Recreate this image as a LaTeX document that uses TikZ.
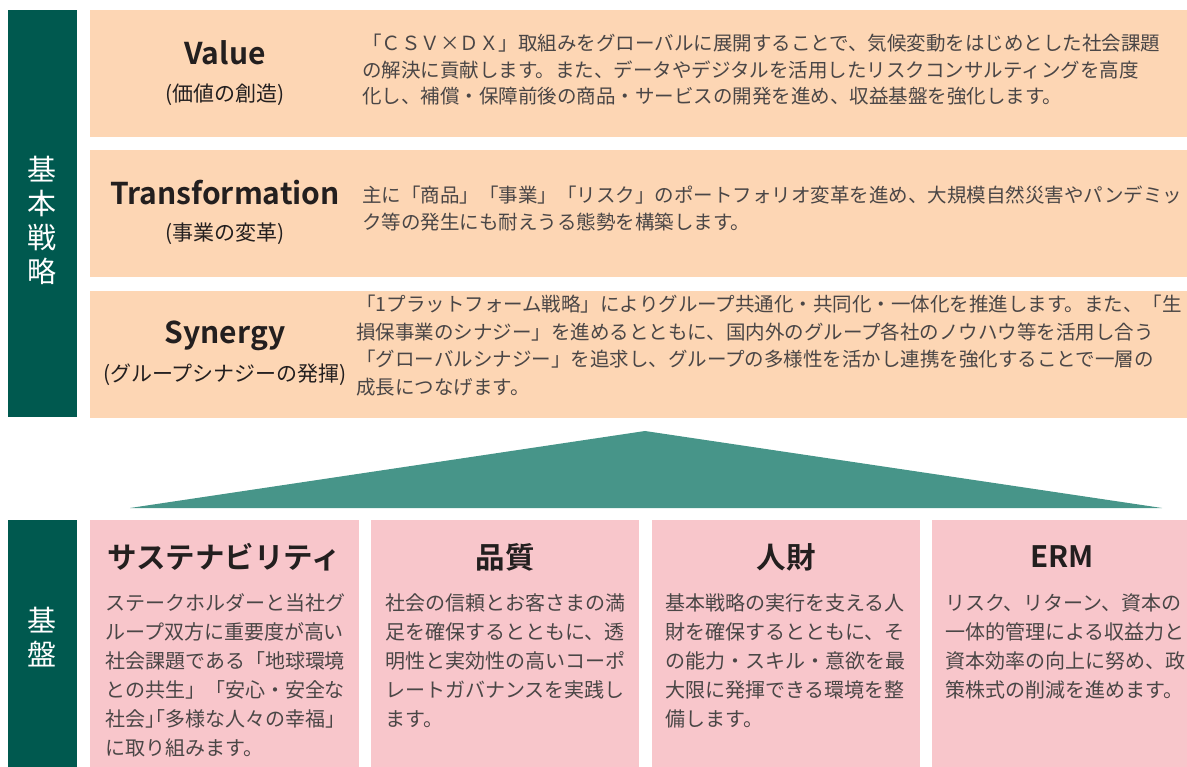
\documentclass[tikz,border=0pt]{standalone}
\usepackage{fontspec}
\setmainfont{Noto Sans CJK JP}[BoldFont={Noto Sans CJK JP Bold}]
\definecolor{dkgreen}{HTML}{00594F}
\definecolor{peach}{HTML}{FDD6B4}
\definecolor{trigreen}{HTML}{479589}
\definecolor{pinkc}{HTML}{F8C6CB}
\definecolor{titlec}{HTML}{231F1F}
\definecolor{bodyc}{HTML}{4A4646}
\newcommand{\hwb}[1]{{\addfontfeature{RawFeature=+halt}#1}}
\begin{document}
\begin{tikzpicture}[x=1pt,y=-1pt]
\tikzset{
  panel/.style={inner sep=0pt, outer sep=0pt, draw=none, anchor=north west},
  sidebar/.style={panel, fill=dkgreen},
  peachbox/.style={panel, fill=peach, minimum width=1097pt, minimum height=127pt},
  pinkbox/.style={panel, fill=pinkc, minimum width=268pt, minimum height=247pt},
  ttl/.style={font=\bfseries\fontsize{30}{32}\selectfont, text=titlec, inner sep=0pt},
  subttl/.style={font=\fontsize{21}{24}\selectfont, text=titlec, inner sep=0pt},
  bodytxt/.style={font=\fontsize{19.5}{26.5}\selectfont, text=bodyc, align=left, anchor=north west, inner sep=0pt},
  basettl/.style={font=\bfseries\fontsize{29.5}{31}\selectfont, text=titlec, inner sep=0pt},
  basetxt/.style={font=\fontsize{20}{29}\selectfont, text=bodyc, align=left, anchor=north west, inner sep=0pt},
  vlabel/.style={font=\fontsize{29}{34}\selectfont, text=white, align=center, inner sep=0pt}
}
\useasboundingbox (0,0) rectangle (1187,767);
% side bars
\node[sidebar, minimum width=69pt, minimum height=407pt] (stratbar) at (8,10) {};
\node[sidebar, minimum width=69pt, minimum height=247pt] (basebar) at (8,520) {};
\node[vlabel] (stratlbl) at (42,220) {基\\本\\戦\\略};
\node[vlabel] (baselbl) at (42,637) {基\\盤};
% strategy boxes
\node[peachbox] (valbox) at (90,10) {};
\node[peachbox] (trbox) at (90,150) {};
\node[peachbox] (synbox) at (90,291) {};
\node[ttl] (valttl) at (225,53) {Value};
\node[subttl] (valsub) at (225,95) {(価値の創造)};
\node[ttl] (trttl) at (225,193) {Transformation};
\node[subttl] (trsub) at (225,234) {(事業の変革)};
\node[ttl] (synttl) at (225,336) {Synergy};
\node[subttl] (synsub) at (225,375) {(グループシナジーの発揮)};
\node[bodytxt] (valtxt) at (362,34) {「ＣＳＶ×ＤＸ」取組みをグローバルに展開することで、気候変動をはじめとした社会課題\\の解決に貢献します。また、データやデジタルを活用したリスクコンサルティングを高度\\化し、補償・保障前後の商品・サービスの開発を進め、収益基盤を強化します。};
\node[bodytxt] (trtxt) at (362,186) {主に「商品」「事業」「リスク」のポートフォリオ変革を進め、大規模自然災害やパンデミッ\\ク等の発生にも耐えうる態勢を構築します。};
\node[bodytxt, font=\fontsize{19.5}{27.6}\selectfont] (syntxt) at (356,295) {「1プラットフォーム戦略」によりグループ共通化・共同化・一体化を推進します。また、「生\\損保事業のシナジー」を進めるとともに、国内外のグループ各社のノウハウ等を活用し合う\\「グローバルシナジー」を追求し、グループの多様性を活かし連携を強化することで一層の\\成長につなげます。};
% triangle
\coordinate (apex) at (645,431);
\coordinate (bl) at (130,508);
\coordinate (br) at (1162,508);
\fill[trigreen] (apex) -- (br) -- (bl) -- cycle;
% base boxes
\node[pinkbox, minimum width=269pt] (susbox) at (90,520) {};
\node[pinkbox] (qualbox) at (371,520) {};
\node[pinkbox] (hrbox) at (652,520) {};
\node[pinkbox, minimum width=255pt] (ermbox) at (932,520) {};
\node[basettl] (susttl) at (224,557) {サステナビリティ};
\node[basettl] (qualttl) at (505,557) {品質};
\node[basettl] (hrttl) at (786,557) {人財};
\node[basettl] (ermttl) at (1062,557) {ERM};
\node[basetxt] (sustxt) at (105,593) {ステークホルダーと当社グ\\ループ双方に重要度が高い\\社会課題である「地球環境\\との共生」「安心・安全な\\社会\hwb{」「}多様な人々の幸福」\\に取り組みます。};
\node[basetxt] (qualtxt) at (385,593) {社会の信頼とお客さまの満\\足を確保するとともに、透\\明性と実効性の高いコーポ\\レートガバナンスを実践し\\ます。};
\node[basetxt] (hrtxt) at (665,593) {基本戦略の実行を支える人\\財を確保するとともに、そ\\の能力・スキル・意欲を最\\大限に発揮できる環境を整\\備します。};
\node[basetxt] (ermtxt) at (945,593) {リスク、リターン、資本の\\一体的管理による収益力と\\資本効率の向上に努め、政\\策株式の削減を進めます。};
\end{tikzpicture}
\end{document}
